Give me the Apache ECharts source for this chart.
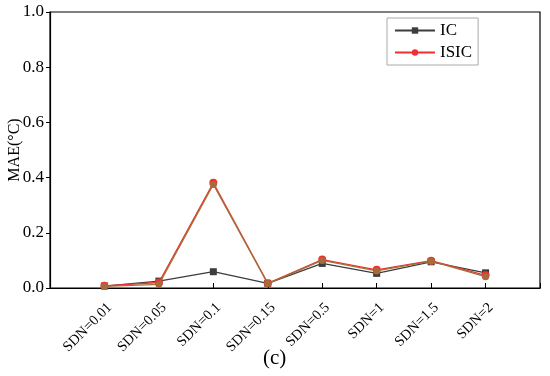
<!DOCTYPE html>
<html>
<head>
<meta charset="utf-8">
<script src="https://cdn.jsdelivr.net/npm/echarts@6/dist/echarts.min.js"></script>
<style>html,body{margin:0;padding:0;background:#fff}#c{width:550px;height:376px}</style>
</head>
<body>
<div id="c"></div>
<script>
const categories = ['SDN=0.01','SDN=0.05','SDN=0.1','SDN=0.15','SDN=0.5','SDN=1','SDN=1.5','SDN=2'];
const icValues = [0.007, 0.025, 0.059, 0.017, 0.089, 0.053, 0.095, 0.055];
const isicValues = [0.008, 0.020, 0.381, 0.017, 0.103, 0.066, 0.099, 0.046];
const overlayValues = [0.006, 0.013, 0.375, 0.016, 0.100, 0.062, 0.097, 0.041];
const yTicks = ['0.0','0.2','0.4','0.6','0.8','1.0'];

const font = 'Liberation Serif';
const toPairs = arr => arr.map((v, i) => [i + 1, v]);
const chart = echarts.init(document.getElementById('c'));
chart.setOption({
  animation: false,
  grid: { left: 50, right: 10, top: 12, bottom: 88, outerBoundsMode: 'none', containLabel: false,
          show: true, borderColor: '#000', borderWidth: 1.2, backgroundColor: 'transparent' },
  legend: {
    data: ['IC', 'ISIC'],
    orient: 'vertical',
    left: 387, top: 18,
    padding: [4, 6, 4, 7],
    itemGap: 5,
    itemWidth: 40, itemHeight: 8,
    borderColor: '#aaa', borderWidth: 1,
    textStyle: { fontFamily: font, fontSize: 17, color: '#000' }
  },
  xAxis: {
    type: 'value', min: 0, max: 9, interval: 1,
    axisLine: { show: true, lineStyle: { color: '#000', width: 1.2 } },
    axisTick: { show: true, inside: true, length: 5, lineStyle: { color: '#000' } },
    splitLine: { show: false },
    axisLabel: {
      rotate: 45, fontFamily: font, fontSize: 14.5, color: '#000', margin: 12, verticalAlign: 'top',
      formatter: v => (v >= 1 && v <= categories.length) ? categories[v - 1] : ''
    }
  },
  yAxis: {
    type: 'value', min: 0, max: 1, interval: 0.2,
    name: 'MAE(°C)', nameLocation: 'middle', nameGap: 27, nameMoveOverlap: false,
    nameTextStyle: { fontFamily: font, fontSize: 16, color: '#000' },
    axisLine: { show: true, lineStyle: { color: '#000', width: 1.2 } },
    axisTick: { show: true, inside: false, length: 4, lineStyle: { color: '#000' } },
    splitLine: { show: false },
    axisLabel: { fontFamily: font, fontSize: 17, color: '#000', margin: 6, formatter: v => yTicks[Math.round(v / 0.2)] }
  },
  graphic: [{ type: 'text', left: 263, top: 348, style: { text: '(c)', fontFamily: font, fontSize: 21, fill: '#000' } }],
  series: [
    { name: 'IC', type: 'line', data: toPairs(icValues), symbol: 'rect', symbolSize: 7,
      itemStyle: { color: '#3d3d3d' }, lineStyle: { color: '#3d3d3d', width: 1.3 }, z: 2 },
    { name: 'ISIC', type: 'line', data: toPairs(isicValues), symbol: 'circle', symbolSize: 8,
      itemStyle: { color: '#f03030' }, lineStyle: { color: '#f03030', width: 1.3 }, z: 3 },
    { name: 'overlay', type: 'line', data: toPairs(overlayValues), symbol: 'circle', symbolSize: 7,
      itemStyle: { color: '#a86a3a' }, lineStyle: { color: '#a0703a', width: 1.3 }, z: 4 }
  ]
});
</script>
</body>
</html>
